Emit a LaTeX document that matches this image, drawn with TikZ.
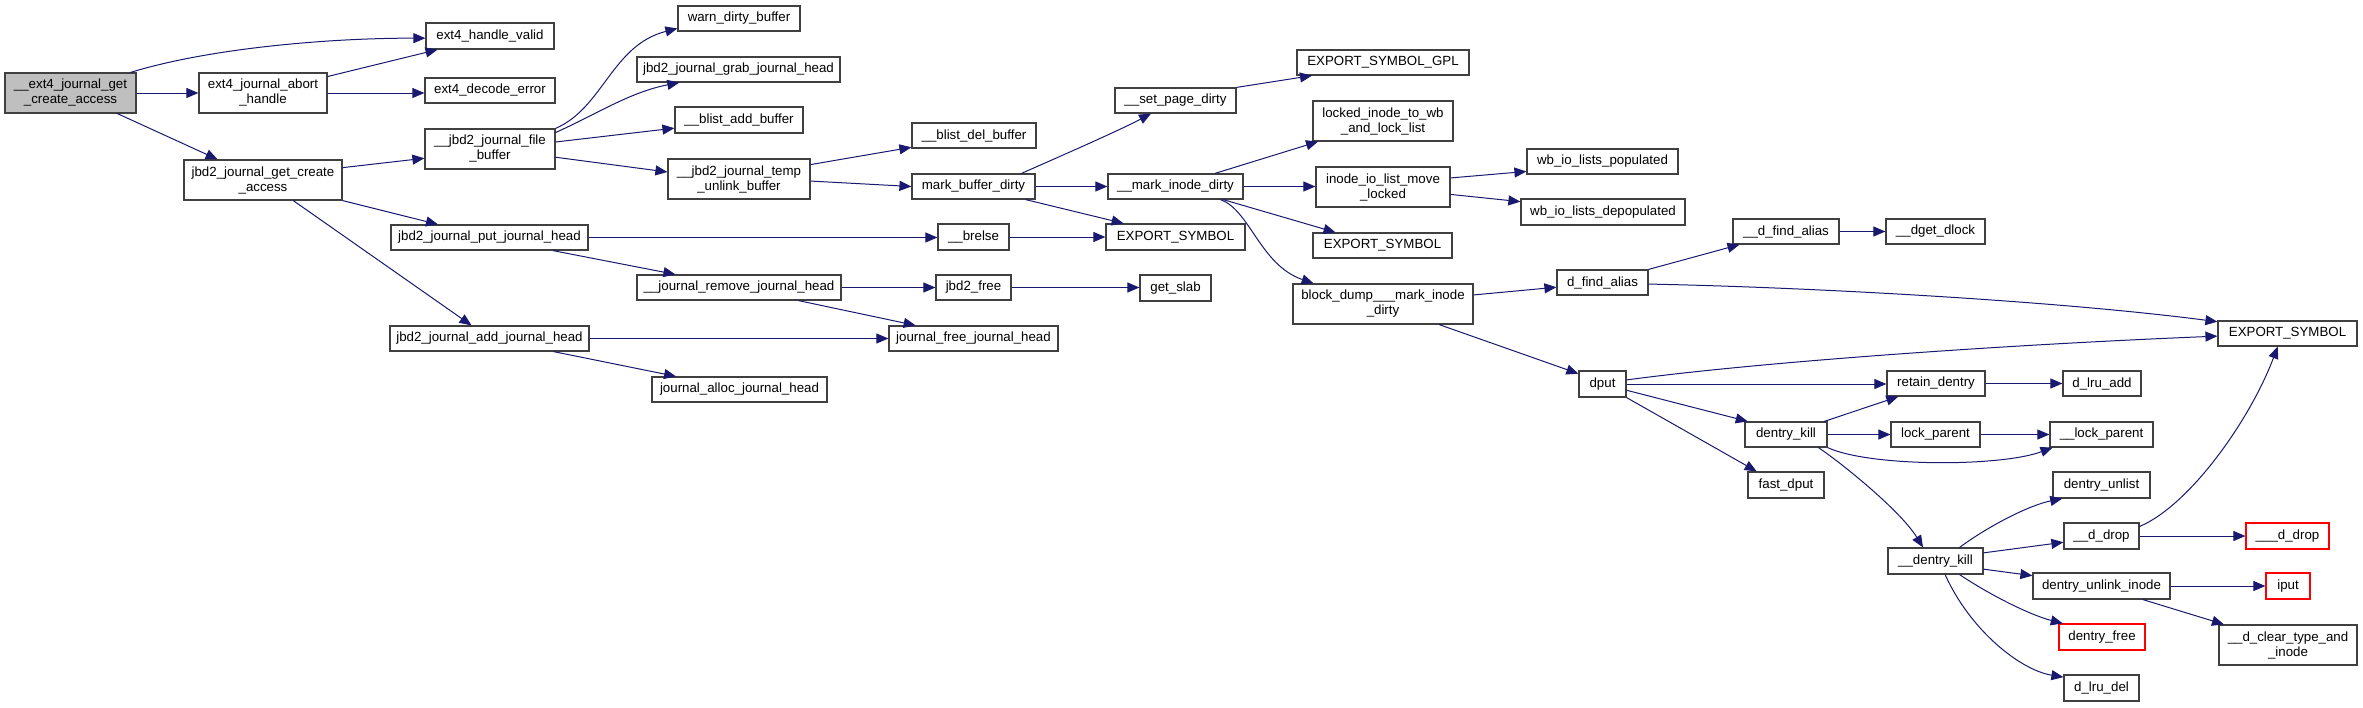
\documentclass[tikz,border=0pt]{standalone}
\usepackage{fontspec}
\setmainfont{Liberation Sans}
\usetikzlibrary{arrows.meta,calc}
\definecolor{edgeblue}{HTML}{191970}
\definecolor{boxgray}{HTML}{404040}
\definecolor{mainfill}{HTML}{BFBFBF}
\tikzset{
 fn/.style={draw=boxgray, line width=1.2pt, fill=white, inner sep=0pt, align=center, font=\fontsize{13.3}{15}\selectfont},
 fnred/.style={fn, draw=red},
 fnmain/.style={fn, fill=mainfill},
 call/.style={draw=edgeblue, line width=1pt, -{Triangle[length=12pt,width=10pt]}}
}
\newcommand\BX[7]{\node[#1, minimum width={#5-#3}, minimum height={#6-#4}] (#2) at ({(#3+#5)/2},{(#4+#6)/2}) {#7};}
\begin{document}
\begin{tikzpicture}[x=1pt,y=-1pt]
\fill[white] (0,0) rectangle (2363,707);
\useasboundingbox (0,0) rectangle (2363,707);
\BX{fnmain}{main}{5}{73}{136}{113}{\_\_ext4\_journal\_get\\\_create\_access}
\BX{fn}{hvalid}{426}{23}{554}{49}{ext4\_handle\_valid}
\BX{fn}{abort}{199}{73}{327}{113}{ext4\_journal\_abort\\\_handle}
\BX{fn}{decode}{425}{78}{555}{103}{ext4\_decode\_error}
\BX{fn}{jgca}{184}{160}{342}{200}{jbd2\_journal\_get\_create\\\_access}
\BX{fn}{filebuf}{425}{129}{555}{169}{\_\_jbd2\_journal\_file\\\_buffer}
\BX{fn}{putjh}{391}{225}{588}{250}{jbd2\_journal\_put\_journal\_head}
\BX{fn}{addjh}{390}{326}{589}{351}{jbd2\_journal\_add\_journal\_head}
\BX{fn}{warn}{678}{6}{800}{31}{warn\_dirty\_buffer}
\BX{fn}{grab}{637}{57}{840}{82}{jbd2\_journal\_grab\_journal\_head}
\BX{fn}{bladd}{675}{107}{803}{133}{\_\_blist\_add\_buffer}
\BX{fn}{tempun}{668}{159}{810}{199}{\_\_jbd2\_journal\_temp\\\_unlink\_buffer}
\BX{fn}{bldel}{912}{123}{1036}{148}{\_\_blist\_del\_buffer}
\BX{fn}{mbd}{912}{174}{1035}{199}{mark\_buffer\_dirty}
\BX{fn}{brelse}{938}{224}{1009}{250}{\_\_brelse}
\BX{fn}{remjh}{637}{275}{841}{300}{\_\_journal\_remove\_journal\_head}
\BX{fn}{jfree}{936}{275}{1011}{300}{jbd2\_free}
\BX{fn}{getslab}{1140}{275}{1211}{301}{get\_slab}
\BX{fn}{freejh}{889}{326}{1058}{351}{journal\_free\_journal\_head}
\BX{fn}{allocjh}{652}{377}{827}{402}{journal\_alloc\_journal\_head}
\BX{fn}{setpd}{1115}{88}{1236}{113}{\_\_set\_page\_dirty}
\BX{fn}{mid}{1108}{174}{1243}{199}{\_\_mark\_inode\_dirty}
\BX{fn}{expa}{1106}{224}{1245}{250}{EXPORT\_SYMBOL}
\BX{fn}{gpl}{1297}{50}{1469}{75}{EXPORT\_SYMBOL\_GPL}
\BX{fn}{locked}{1313}{101}{1453}{141}{locked\_inode\_to\_wb\\\_and\_lock\_list}
\BX{fn}{iolml}{1316}{167}{1450}{207}{inode\_io\_list\_move\\\_locked}
\BX{fn}{expb}{1313}{233}{1452}{258}{EXPORT\_SYMBOL}
\BX{fn}{bdump}{1293}{284}{1473}{324}{block\_dump\_\_\_mark\_inode\\\_dirty}
\BX{fn}{wbpop}{1527}{149}{1678}{174}{wb\_io\_lists\_populated}
\BX{fn}{wbdep}{1521}{199}{1685}{225}{wb\_io\_lists\_depopulated}
\BX{fn}{dfa}{1557}{270}{1648}{295}{d\_find\_alias}
\BX{fn}{udfa}{1733}{219}{1839}{244}{\_\_d\_find\_alias}
\BX{fn}{dget}{1886}{219}{1985}{244}{\_\_dget\_dlock}
\BX{fn}{dput}{1579}{371}{1626}{397}{dput}
\BX{fn}{expc}{2218}{321}{2357}{346}{EXPORT\_SYMBOL}
\BX{fn}{retain}{1887}{371}{1985}{396}{retain\_dentry}
\BX{fn}{lruadd}{2063}{371}{2141}{396}{d\_lru\_add}
\BX{fn}{dkill}{1745}{422}{1827}{447}{dentry\_kill}
\BX{fn}{lockp}{1891}{422}{1980}{447}{lock\_parent}
\BX{fn}{ulockp}{2050}{422}{2153}{447}{\_\_lock\_parent}
\BX{fn}{fastdput}{1748}{472}{1824}{498}{fast\_dput}
\BX{fn}{unlist}{2053}{472}{2150}{498}{dentry\_unlist}
\BX{fn}{ddrop}{2064}{523}{2139}{549}{\_\_d\_drop}
\BX{fnred}{dddrop}{2246}{523}{2329}{549}{\_\_\_d\_drop}
\BX{fn}{udkill}{1888}{548}{1983}{574}{\_\_dentry\_kill}
\BX{fn}{unlinki}{2033}{573}{2170}{599}{dentry\_unlink\_inode}
\BX{fnred}{iput}{2266}{573}{2310}{599}{iput}
\BX{fnred}{dfree}{2059}{624}{2145}{650}{dentry\_free}
\BX{fn}{clear}{2219}{625}{2357}{665}{\_\_d\_clear\_type\_and\\\_inode}
\BX{fn}{lrudel}{2064}{675}{2139}{701}{d\_lru\_del}

\draw[call] ($(main.north west)!0.954!(main.north east)$) .. controls (210,48) and (330,38) .. ($(hvalid.north west)!0.58!(hvalid.south west)$);
\draw[call] (main.east) -- (abort.west);
\draw[call] ($(main.south west)!0.855!(main.south east)$) -- ($(jgca.north west)!0.215!(jgca.north east)$);
\draw[call] ($(abort.north east)!0.1!(abort.south east)$) -- ($(hvalid.south west)!0.094!(hvalid.south east)$);
\draw[call] (abort.east) -- (abort.east -| decode.west);
\draw[call] ($(jgca.north east)!0.2!(jgca.south east)$) -- ($(filebuf.north west)!0.725!(filebuf.south west)$);
\draw[call] (jgca.south east) -- ($(putjh.north west)!0.24!(putjh.north east)$);
\draw[call] ($(jgca.south west)!0.69!(jgca.south east)$) -- ($(addjh.north west)!0.41!(addjh.north east)$);
\draw[call] (filebuf.north east) .. controls (603,108) and (612,45) .. ($(warn.north west)!0.88!(warn.south west)$);
\draw[call] ($(filebuf.north east)!0.1!(filebuf.south east)$) .. controls (595,115) and (630,92) .. ($(grab.south west)!0.21!(grab.south east)$);
\draw[call] ($(filebuf.north east)!0.33!(filebuf.south east)$) -- ($(bladd.north west)!0.8!(bladd.south west)$);
\draw[call] ($(filebuf.north east)!0.7!(filebuf.south east)$) -- ($(tempun.north west)!0.33!(tempun.south west)$);
\draw[call] ($(tempun.north east)!0.15!(tempun.south east)$) -- ($(bldel.north west)!0.95!(bldel.south west)$);
\draw[call] ($(tempun.north east)!0.55!(tempun.south east)$) -- (mbd.west);
\draw[call] ($(mbd.north west)!0.886!(mbd.north east)$) .. controls (1070,152) and (1120,130) .. ($(setpd.south west)!0.3!(setpd.south east)$);
\draw[call] (mbd.east) -- (mid.west);
\draw[call] ($(mbd.south west)!0.92!(mbd.south east)$) -- ($(expa.north west)!0.13!(expa.north east)$);
\draw[call] (putjh.east) -- (putjh.east -| brelse.west);
\draw[call] ($(putjh.south west)!0.82!(putjh.south east)$) -- ($(remjh.north west)!0.19!(remjh.north east)$);
\draw[call] (brelse.east) -- (expa.west);
\draw[call] (remjh.east) -- (jfree.west);
\draw[call] ($(remjh.south west)!0.79!(remjh.south east)$) -- ($(freejh.north west)!0.16!(freejh.north east)$);
\draw[call] (jfree.east) -- (jfree.east -| getslab.west);
\draw[call] (addjh.east) -- (freejh.west);
\draw[call] ($(addjh.south west)!0.82!(addjh.south east)$) -- ($(allocjh.north west)!0.14!(allocjh.north east)$);
\draw[call] (setpd.north east) -- ($(gpl.south west)!0.09!(gpl.south east)$);
\draw[call] ($(mid.north west)!0.79!(mid.north east)$) -- ($(locked.south west)!0.04!(locked.south east)$);
\draw[call] (mid.east) -- (mid.east -| iolml.west);
\draw[call] ($(mid.south west)!0.85!(mid.south east)$) -- ($(expb.north west)!0.165!(expb.north east)$);
\draw[call] ($(mid.south west)!0.83!(mid.south east)$) .. controls (1250,210) and (1260,265) .. ($(bdump.north west)!0.117!(bdump.north east)$);
\draw[call] ($(iolml.north east)!0.28!(iolml.south east)$) -- ($(wbpop.north west)!0.88!(wbpop.south west)$);
\draw[call] ($(iolml.north east)!0.68!(iolml.south east)$) -- ($(wbdep.north west)!0.12!(wbdep.south west)$);
\draw[call] ($(bdump.north east)!0.28!(bdump.south east)$) -- ($(dfa.north west)!0.68!(dfa.south west)$);
\draw[call] ($(bdump.south west)!0.81!(bdump.south east)$) -- ($(dput.north west)!0.12!(dput.south west)$);
\draw[call] (dfa.north east) -- ($(udfa.south west)!0.066!(udfa.south east)$);
\draw[call] ($(dfa.north east)!0.56!(dfa.south east)$) .. controls (1800,287) and (2050,300) .. ($(expc.north west)!0.05!(expc.south west)$);
\draw[call] (udfa.east) -- (dget.west);
\draw[call] ($(dput.north east)!0.35!(dput.south east)$) .. controls (1760,362) and (2000,345) .. ($(expc.north west)!0.6!(expc.south west)$);
\draw[call] (dput.east) -- (dput.east -| retain.west);
\draw[call] ($(dput.north east)!0.73!(dput.south east)$) -- ($(dkill.north west)!0.04!(dkill.north east)$);
\draw[call] (dput.south east) -- ($(fastdput.north west)!0.12!(fastdput.north east)$);
\draw[call] (retain.east) -- (lruadd.west);
\draw[call] ($(dkill.north west)!0.96!(dkill.north east)$) -- ($(retain.south west)!0.12!(retain.south east)$);
\draw[call] (dkill.east) -- (lockp.west);
\draw[call] (dkill.south east) .. controls (1870,467) and (2000,467) .. ($(ulockp.south west)!0.03!(ulockp.south east)$);
\draw[call] ($(dkill.south west)!0.89!(dkill.south east)$) .. controls (1840,462) and (1900,510) .. ($(udkill.north west)!0.37!(udkill.north east)$);
\draw[call] (lockp.east) -- (ulockp.west);
\draw[call] ($(udkill.north west)!0.75!(udkill.north east)$) .. controls (1990,525) and (2030,505) .. ($(unlist.south west)!0.1!(unlist.south east)$);
\draw[call] ($(udkill.north east)!0.2!(udkill.south east)$) -- ($(ddrop.north west)!0.73!(ddrop.south west)$);
\draw[call] ($(udkill.north east)!0.8!(udkill.south east)$) -- ($(unlinki.north west)!0.12!(unlinki.south west)$);
\draw[call] ($(udkill.south west)!0.75!(udkill.south east)$) .. controls (1990,595) and (2030,615) .. ($(dfree.north west)!0.05!(dfree.north east)$);
\draw[call] ($(udkill.south west)!0.6!(udkill.south east)$) .. controls (1970,630) and (2020,670) .. ($(lrudel.north west)!0.1!(lrudel.south west)$);
\draw[call] ($(ddrop.north east)!0.15!(ddrop.south east)$) .. controls (2190,505) and (2250,420) .. ($(expc.south west)!0.43!(expc.south east)$);
\draw[call] (ddrop.east) -- (dddrop.west);
\draw[call] (unlinki.east) -- (iput.west);
\draw[call] ($(unlinki.south west)!0.8!(unlinki.south east)$) -- ($(clear.north west)!0.04!(clear.north east)$);
\end{tikzpicture}
\end{document}
